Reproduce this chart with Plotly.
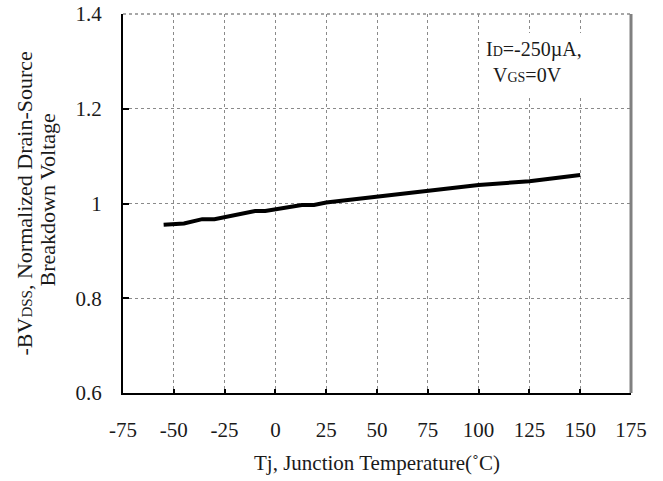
import plotly.graph_objects as go

temps = [-55, -45, -36, -30, -10, -5, 13, 19, 25, 50, 75, 100, 125, 150]
bv_norm = [0.955, 0.958, 0.967, 0.967, 0.984, 0.984, 0.997, 0.997, 1.002, 1.014, 1.027, 1.039, 1.047, 1.060]

x_ticks = [-75, -50, -25, 0, 25, 50, 75, 100, 125, 150, 175]
y_ticks = [0.6, 0.8, 1.0, 1.2, 1.4]
y_tick_text = ["0.6", "0.8", "1", "1.2", "1.4"]

FONT = "Liberation Serif, Times New Roman, serif"
TXT = "#1a1a1a"

fig = go.Figure()
fig.add_trace(go.Scatter(x=temps, y=bv_norm, mode="lines",
                         line=dict(color="black", width=4), showlegend=False,
                         hoverinfo="skip"))

fig.update_layout(
    width=663, height=481,
    margin=dict(l=123, r=32, t=13.5, b=87.5),
    plot_bgcolor="white", paper_bgcolor="white",
    font=dict(family=FONT, size=21, color=TXT),
    xaxis=dict(range=[-75, 175], tickvals=x_ticks, ticktext=[str(v) for v in x_ticks],
               showgrid=True, gridcolor="#8a8a8a", griddash="dot", gridwidth=1,
               showline=True, linecolor="black", linewidth=2,
               ticks="inside", ticklen=4, tickcolor="black", tickwidth=2,
               zeroline=False, ticklabelstandoff=17, automargin=False,
               ticklabeloverflow="allow"),
    yaxis=dict(range=[0.6, 1.4], tickvals=y_ticks, ticktext=y_tick_text,
               showgrid=True, gridcolor="#8a8a8a", griddash="dot", gridwidth=1,
               showline=True, linecolor="black", linewidth=2,
               ticks="inside", ticklen=6, tickcolor="black", tickwidth=2,
               zeroline=False, ticklabelstandoff=15, automargin=False,
               ticklabeloverflow="allow"),
)

# top (dotted grey) and right (solid grey) frame lines
fig.add_shape(type="line", xref="paper", yref="paper", x0=0, x1=1, y0=1, y1=1,
              line=dict(color="#8a8a8a", width=1.5, dash="dot"))
fig.add_shape(type="line", xref="paper", yref="paper", x0=1, x1=1, y0=0, y1=1,
              line=dict(color="#808080", width=3))

# axis titles
fig.add_annotation(xref="paper", yref="paper", x=0.5, y=-0.184, yanchor="middle",
                   text="Tj, Junction Temperature(˚C)", showarrow=False,
                   font=dict(family=FONT, size=21, color=TXT))
fig.add_annotation(xref="paper", yref="paper", x=-0.193, y=0.5, xanchor="center", yanchor="middle",
                   textangle=-90,
                   text="-BV<span style='font-size:15px'>DSS</span>, Normalized Drain-Source",
                   showarrow=False, font=dict(family=FONT, size=22, color=TXT))
fig.add_annotation(xref="paper", yref="paper", x=-0.148, y=0.51, xanchor="center", yanchor="middle",
                   textangle=-90,
                   text="Breakdown Voltage",
                   showarrow=False, font=dict(family=FONT, size=22, color=TXT))

# condition box (white background over grid)
fig.add_shape(type="rect", xref="paper", yref="paper", x0=0.701, x1=0.93, y0=0.779, y1=0.95,
              fillcolor="white", line=dict(width=0), layer="above")
fig.add_annotation(xref="paper", yref="paper", x=0.711, y=0.906, xanchor="left", yanchor="middle",
                   text="I<span style='font-size:14px'>D</span>=-250µA,",
                   showarrow=False, font=dict(family=FONT, size=20, color=TXT))
fig.add_annotation(xref="paper", yref="paper", x=0.725, y=0.838, xanchor="left", yanchor="middle",
                   text="V<span style='font-size:14px'>GS</span>=0V",
                   showarrow=False, font=dict(family=FONT, size=20, color=TXT))

fig.write_html("out.html", config={"displayModeBar": False},
               post_script="document.body.style.margin='0';")
